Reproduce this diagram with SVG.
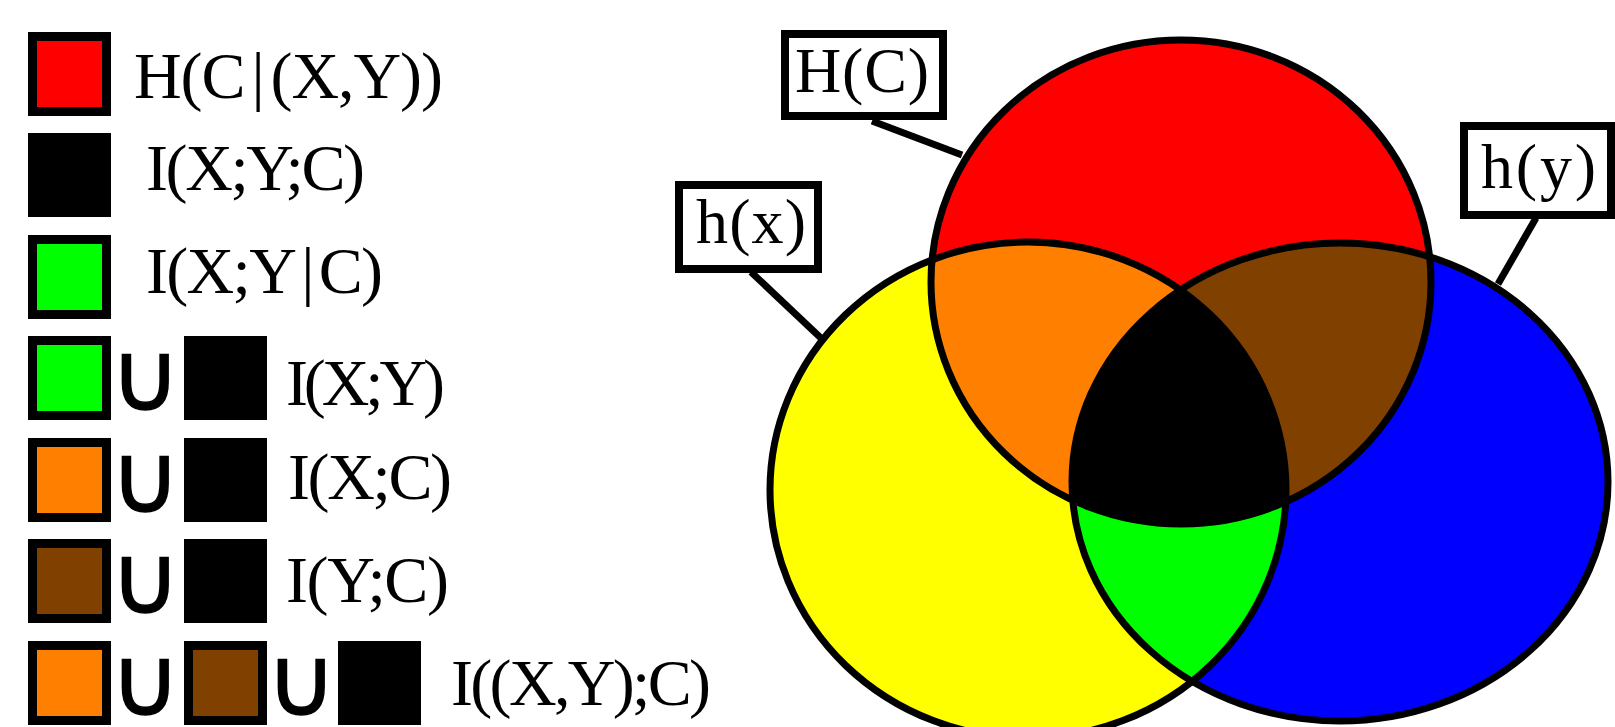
<svg xmlns="http://www.w3.org/2000/svg" width="1615" height="727" viewBox="0 0 1615 727">
<style>
.t{font-family:"Liberation Serif","Times New Roman",serif;font-size:66px;fill:#000}
.lb{font-family:"Liberation Serif","Times New Roman",serif;font-size:64px;fill:#000}
.u{font-family:"DejaVu Sans",sans-serif;font-size:96px;fill:#000;stroke:#000;stroke-width:1.5;text-anchor:middle}
.bx{stroke:#000;stroke-width:9}
.lbox{fill:#fff;stroke:#000;stroke-width:8}
.edge{fill:none;stroke:#000;stroke-width:7}
.conn{stroke:#000;stroke-width:7;fill:none}
</style>
<defs>
<ellipse id="eC" cx="1181" cy="282" rx="250" ry="242"/>
<ellipse id="eX" cx="1028" cy="490" rx="258" ry="248"/>
<ellipse id="eY" cx="1340" cy="482" rx="268" ry="239"/>
<clipPath id="cC"><use href="#eC"/></clipPath>
<clipPath id="cY"><use href="#eY"/></clipPath>
</defs>
<rect width="1615" height="727" fill="#fff"/>

<g id="legend-1">
<rect class="bx" x="32.5" y="36.5" width="74" height="75" fill="#ff0000"/>
<text class="t" x="134" y="98" textLength="309" lengthAdjust="spacing">H(C<tspan dx="7">|</tspan><tspan dx="7">(X,Y))</tspan></text>
</g>
<g id="legend-2">
<rect x="28" y="133" width="83" height="84" fill="#000"/>
<text class="t" x="146" y="190" textLength="219" lengthAdjust="spacing">I(X;Y;C)</text>
</g>
<g id="legend-3">
<rect class="bx" x="32.5" y="239.5" width="74" height="75" fill="#00ff00"/>
<text class="t" x="146" y="293" textLength="237" lengthAdjust="spacing">I(X;Y<tspan dx="6">|</tspan><tspan dx="6">C)</tspan></text>
</g>
<g id="legend-4">
<rect class="bx" x="32.5" y="340.5" width="74" height="75" fill="#00ff00"/>
<text class="u" x="145.5" y="410">∪</text>
<rect x="184" y="336" width="83" height="84" fill="#000"/>
<text class="t" x="286" y="405" textLength="159" lengthAdjust="spacing">I(X;Y)</text>
</g>
<g id="legend-5">
<rect class="bx" x="32.5" y="442.5" width="74" height="75" fill="#ff8000"/>
<text class="u" x="145.5" y="512">∪</text>
<rect x="184" y="438" width="83" height="84" fill="#000"/>
<text class="t" x="288" y="499" textLength="164" lengthAdjust="spacing">I(X;C)</text>
</g>
<g id="legend-6">
<rect class="bx" x="32.5" y="543.5" width="74" height="75" fill="#804000"/>
<text class="u" x="145.5" y="613">∪</text>
<rect x="184" y="539" width="83" height="84" fill="#000"/>
<text class="t" x="286" y="602" textLength="163" lengthAdjust="spacing">I(Y;C)</text>
</g>
<g id="legend-7">
<rect class="bx" x="32.5" y="645.5" width="74" height="75" fill="#ff8000"/>
<text class="u" x="145.5" y="715">∪</text>
<rect class="bx" x="188.5" y="645.5" width="74" height="75" fill="#804000"/>
<text class="u" x="301.5" y="715">∪</text>
<rect x="338" y="641" width="83" height="84" fill="#000"/>
<text class="t" x="451" y="705" textLength="260" lengthAdjust="spacing">I((X,Y);C)</text>
</g>

<g id="venn">
<use href="#eX" fill="#ffff00"/>
<use href="#eY" fill="#0000ff"/>
<use href="#eC" fill="#ff0000"/>
<g clip-path="url(#cC)">
<use href="#eX" fill="#ff8000"/>
<use href="#eY" fill="#804000"/>
</g>
<g clip-path="url(#cY)">
<use href="#eX" fill="#00ff00"/>
<g clip-path="url(#cC)"><use href="#eX" fill="#000"/></g>
</g>
<use id="circle-X" href="#eX" class="edge"/>
<use id="circle-Y" href="#eY" class="edge"/>
<use id="circle-C" href="#eC" class="edge"/>
</g>

<g id="connectors">
<line class="conn" x1="872" y1="121" x2="962" y2="155"/>
<line class="conn" x1="751" y1="272" x2="823" y2="340"/>
<line class="conn" x1="1536" y1="218" x2="1498" y2="284"/>
</g>

<g id="label-HC">
<rect class="lbox" x="785" y="34" width="158" height="82"/>
<text class="lb" x="795" y="92" textLength="134" lengthAdjust="spacing">H(C)</text>
</g>
<g id="label-hx">
<rect class="lbox" x="679" y="185" width="139" height="84"/>
<text class="lb" x="696" y="243" textLength="110" lengthAdjust="spacing">h(x)</text>
</g>
<g id="label-hy">
<rect class="lbox" x="1464" y="126" width="147" height="89"/>
<text class="lb" x="1481" y="188" textLength="115" lengthAdjust="spacing">h(y)</text>
</g>
</svg>
